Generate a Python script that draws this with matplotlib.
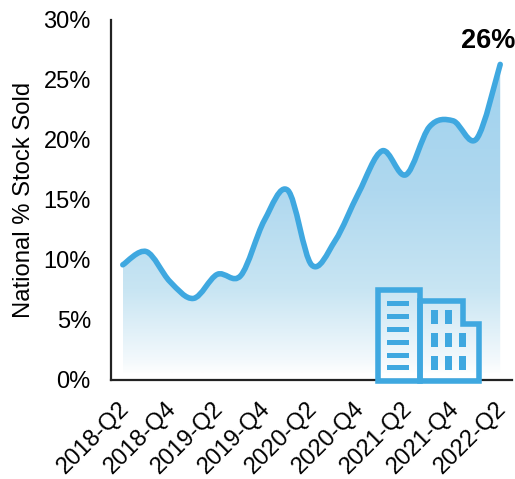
#!/usr/bin/env python3
# coding: utf-8

import matplotlib
matplotlib.use("Agg")
import matplotlib.pyplot as plt
import numpy as np
from matplotlib.colors import LinearSegmentedColormap
from matplotlib.patches import PathPatch, Polygon, Rectangle
from matplotlib.path import Path
from matplotlib.transforms import IdentityTransform, ScaledTranslation

quarters = ["2018-Q2", "2018-Q3", "2018-Q4", "2019-Q1", "2019-Q2", "2019-Q3",
            "2019-Q4", "2020-Q1", "2020-Q2", "2020-Q3", "2020-Q4", "2021-Q1",
            "2021-Q2", "2021-Q3", "2021-Q4", "2022-Q1", "2022-Q2"]
stock_sold = [9.6, 10.7, 8.2, 6.8, 8.8, 8.7, 13.3, 15.8, 9.6, 11.6, 15.6, 19.1,
              17.1, 21.1, 21.6, 20.1, 26.3]
y_ticks = [0, 5, 10, 15, 20, 25, 30]

LINE_COLOR = "#3FA8E0"
FILL_FLOOR = 0.6
W, H = 515, 479

plt.rcParams["font.family"] = ["Liberation Sans", "DejaVu Sans"]


def smooth_vertices(x, y):
    # spreadsheet style smoothing: one bezier segment between neighbouring points
    pts = np.column_stack([x, y])
    verts = [pts[0]]
    codes = [Path.MOVETO]
    for i in range(len(pts) - 1):
        prev_pt = pts[max(i - 1, 0)]
        next_pt = pts[min(i + 2, len(pts) - 1)]
        verts.append(pts[i] + (pts[i + 1] - prev_pt) / 6)
        verts.append(pts[i + 1] - (next_pt - pts[i]) / 6)
        verts.append(pts[i + 1])
        codes += [Path.CURVE4] * 3
    return verts, codes


def draw_building(fig):
    # icon is laid out in pixels from the top left corner
    def px(x, y):
        return (x, H - y)

    tr = IdentityTransform()
    stroke = dict(fill=False, edgecolor=LINE_COLOR, linewidth=4.0, joinstyle="miter",
                  transform=tr, zorder=6)
    fig.add_artist(Polygon([px(378, 290), px(420, 290), px(420, 380.5), px(378, 380.5)],
                           closed=True, **stroke))
    fig.add_artist(Polygon([px(420, 300.5), px(463, 300.5), px(463, 323.5), px(478.5, 323.5),
                            px(478.5, 380.5), px(420, 380.5)], closed=True, **stroke))
    for y in [303, 316.5, 329, 342.5, 355, 367.5]:
        x0, y0 = px(387, y + 2.5)
        fig.add_artist(Rectangle((x0, y0), 22, 5, color=LINE_COLOR, lw=0, transform=tr, zorder=6))
    for row, y in enumerate([324, 347, 370]):
        for col, x in enumerate([431, 445, 459]):
            if row == 0 and col == 2:
                continue
            x0, y0 = px(x, y)
            fig.add_artist(Rectangle((x0, y0), 7, 14, color=LINE_COLOR, lw=0, transform=tr, zorder=6))


fig = plt.figure(figsize=(W / 100, H / 100), dpi=100)
ax = fig.add_axes([111 / W, 1 - 380 / H, 401 / W, 360 / H])

x = np.arange(len(quarters))
verts, codes = smooth_vertices(x, stock_sold)

# area under the curve, filled with a vertical fade clipped to the outline
area_verts = verts + [(x[-1], FILL_FLOOR), (x[0], FILL_FLOOR), verts[0]]
area_codes = codes + [Path.LINETO, Path.LINETO, Path.CLOSEPOLY]
area = PathPatch(Path(area_verts, area_codes), transform=ax.transData, facecolor="none", edgecolor="none")
ax.add_patch(area)
fade = LinearSegmentedColormap.from_list(
    "fade", [(0.0, "#FDFEFE"), (0.04, "#F3F9FC"), (0.14, "#E0F0F8"), (0.27, "#C8E5F3"),
             (0.59, "#AFD8EF"), (1.0, "#A0D2EE")])
img = ax.imshow(np.linspace(1, 0, 256).reshape(-1, 1), cmap=fade, aspect="auto",
                extent=(x[0], x[-1], FILL_FLOOR, max(stock_sold)), zorder=1, interpolation="bilinear")
img.set_clip_path(area)

ax.add_patch(PathPatch(Path(verts, codes), facecolor="none", edgecolor=LINE_COLOR,
                       linewidth=4.0, capstyle="round", joinstyle="round", zorder=3))

ax.set_xlim(-0.5, len(quarters) - 0.5)
ax.set_ylim(0, 30)
ax.set_yticks(y_ticks)
ax.set_yticklabels(["%d%%" % t for t in y_ticks], fontsize=17)
ax.set_xticks(x[::2])
ax.set_xticklabels(quarters[::2], fontsize=17, rotation=45, ha="right", va="top",
                   rotation_mode="anchor")
ax.tick_params(axis="y", length=0, pad=14.5)
ax.tick_params(axis="x", length=0, pad=12.5)
ax.set_ylabel("National % Stock Sold", fontsize=17.2, labelpad=6)

# pull the slanted quarter labels a little to the left of their positions
shift = ScaledTranslation(-5 / 100, 0, fig.dpi_scale_trans)
for label in ax.get_xticklabels():
    label.set_transform(label.get_transform() + shift)

for side in ["top", "right"]:
    ax.spines[side].set_visible(False)
for side in ["left", "bottom"]:
    ax.spines[side].set_linewidth(1.6)
    ax.spines[side].set_color("#222222")

ax.annotate("%d%%" % round(stock_sold[-1]), (x[-1], stock_sold[-1]), xytext=(-12, 23),
            textcoords="offset pixels", ha="center", va="center", fontsize=19.5,
            fontweight="bold", annotation_clip=False)

draw_building(fig)

fig.savefig("out.png", dpi=100)
